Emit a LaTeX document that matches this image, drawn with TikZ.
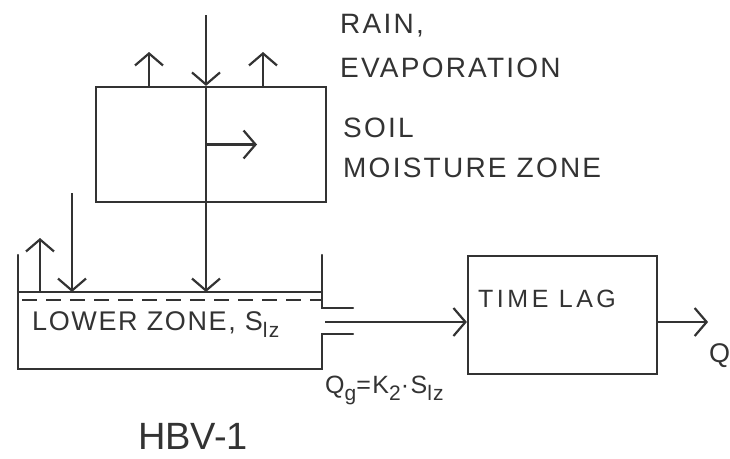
\documentclass[tikz,border=0pt]{standalone}
\usepackage{fontspec}
\setmainfont{Liberation Sans}
\newfontfamily\handfont[LetterSpace=6]{Liberation Sans}
\newfontfamily\widefont[LetterSpace=8]{Liberation Sans}
\newfontfamily\lagfont[LetterSpace=14]{Liberation Sans}
\usetikzlibrary{arrows.meta,positioning}
\newcommand{\lowsub}[1]{\raisebox{-7pt}{\fontsize{21}{21}\selectfont #1}}
\tikzset{
  wall/.style    = {line width=2.2pt,line cap=round},
  flow/.style    = {-{Straight Barb[length=12pt,width=28pt,line width=2.2pt]},
                    line width=2.2pt},
  zonebox/.style = {draw,line width=2.2pt,inner sep=0pt},
  lbl/.style     = {font=\handfont\fontsize{27}{30}\selectfont,
                    inner sep=0pt,anchor=base west,text=black!80},
  toplbl/.style  = {lbl,font=\widefont\fontsize{28}{30}\selectfont},
}

\begin{document}
\begin{tikzpicture}[x=1pt,y=-1pt,color=black!80]
  \useasboundingbox (0,0) rectangle (730,458);
  % soil moisture zone
  \node[zonebox,minimum width=230pt,minimum height=115pt] (soil) at (211,144.5) {};
  \coordinate (rain) at (206,15);
  \coordinate (lzin) at (206,292);
  \draw[flow] (rain) -- (soil.north -| rain);
  \draw[flow] (soil.north -| rain) -- (lzin);
  \foreach \x in {149,263}
    \draw[flow] (soil.north -| \x,0) -- (\x,52);
  \draw[flow] (rain |- soil.center) -- ++(51,0);
  \node[toplbl] (raintxt) at (340,33) {RAIN,};
  \node[toplbl] (evaptxt) at (340,77) {EVAPORATION};
  \node[toplbl] (soiltxt) at (343,137) {SOIL};
  \node[toplbl] (moisttxt) at (343,177) {MOISTURE ZONE};

  % lower zone tank
  \draw[wall] (18,255) -- (18,369) -- (322,369) -- (322,334) -- (353,334);
  \draw[wall] (322,255) -- (322,308) -- (353,308);
  \draw[wall] (18,292) -- (322,292);
  \draw[wall,line cap=butt,dash pattern=on 15pt off 9pt] (22,300) -- (322,300);
  \coordinate (lzleft) at (72,193);
  \draw[flow] (lzleft) -- (72,292);
  \draw[flow] (40,292) -- (40,238);
  \node[lbl] (lztxt) at (32,330) {LOWER ZONE, S\lowsub{lz}};
  \node[lbl,font=\handfont\fontsize{25}{28}\selectfont] (qgtxt) at (325,393)
    {Q\lowsub{g}=K\lowsub{2}·S\lowsub{lz}};

  % time lag
  \node[zonebox,minimum width=189pt,minimum height=118pt] (lag) at (562.5,315) {};
  \node[lbl,font=\lagfont\fontsize{25}{28}\selectfont] (lagtxt) at (478,307) {TIME LAG};
  \coordinate (out) at (325,322);
  \draw[flow] (out) -- (lag.west |- out);
  \draw[flow] (lag.east |- out) -- ++(50,0) coordinate (qend);
  \node[lbl] (qtxt) at (709,362) {Q};

  \node[lbl,font=\fontsize{38}{40}\selectfont] (hbv) at (138,449) {HBV-1};
\end{tikzpicture}
\end{document}
